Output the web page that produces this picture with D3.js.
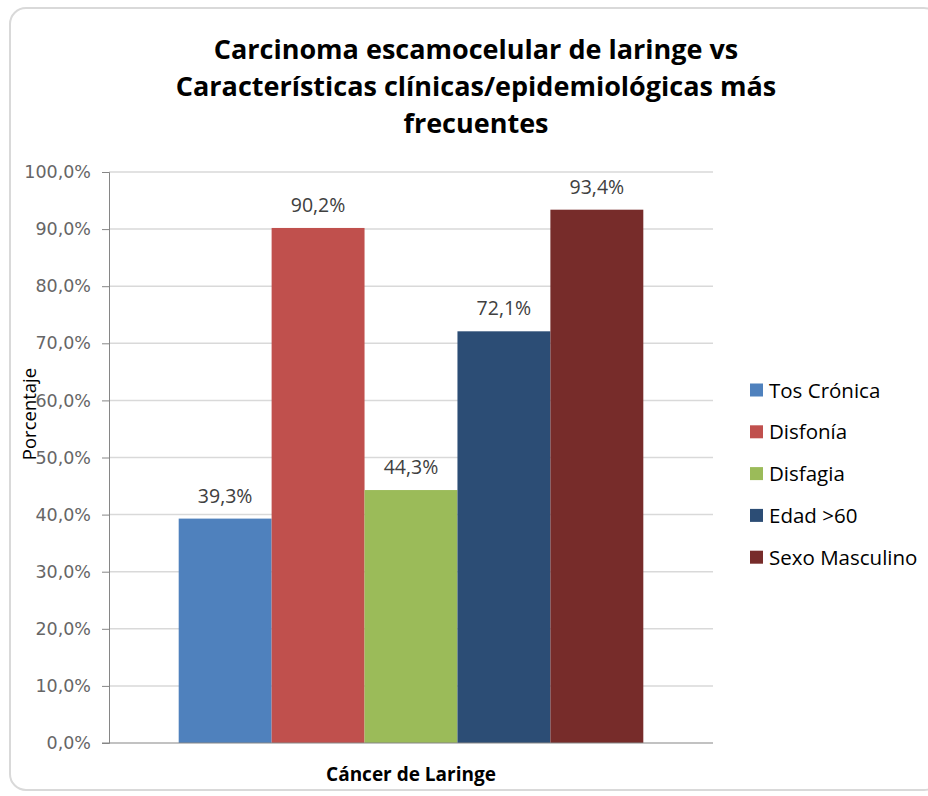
<!DOCTYPE html>
<html>
<head>
<meta charset="utf-8">
<script src="https://cdn.jsdelivr.net/npm/d3@7"></script>
<style>
  body { margin: 0; background: #fff; }
  svg { display: block; }
</style>
</head>
<body>
<svg id="chart" width="928" height="796"></svg>
<script>
// data
const titleLines = ["Carcinoma escamocelular de laringe vs",
  "Características clínicas/epidemiológicas más", "frecuentes"];
const seriesNames = ["Tos Crónica", "Disfonía", "Disfagia", "Edad >60", "Sexo Masculino"];
const seriesValues = [39.3, 90.2, 44.3, 72.1, 93.4];
const seriesColors = ["#4F81BD", "#C0504D", "#9BBB59", "#2C4D75", "#772C2A"];
const category = "Cáncer de Laringe";
const yTicks = [0, 10, 20, 30, 40, 50, 60, 70, 80, 90, 100];
const yTitle = "Porcentaje";

const fmt = v => v.toFixed(1).replace(".", ",") + "%";

const svg = d3.select("#chart");

// chart frame
svg.append("rect")
  .attr("x", 10).attr("y", 8)
  .attr("width", 930).attr("height", 782)
  .attr("rx", 16)
  .attr("fill", "#fff")
  .attr("stroke", "#d9d9d9")
  .attr("stroke-width", 2);

// title
svg.append("text")
  .attr("text-anchor", "middle")
  .style("font-family", "'Open Sans', sans-serif")
  .style("font-weight", "bold")
  .style("font-size", "27px")
  .attr("fill", "#000")
  .selectAll("tspan")
  .data(titleLines)
  .enter()
  .append("tspan")
  .attr("x", 476)
  .attr("y", (d, i) => 59 + i * 37)
  .text(d => d);

const plot = { left: 109, right: 713, top: 172, bottom: 743 };

const y = d3.scaleLinear()
  .domain([0, 100])
  .range([plot.bottom, plot.top]);

const x = d3.scaleBand()
  .domain([category])
  .range([plot.left, plot.right])
  .paddingInner(0)
  .paddingOuter(0.15);

const xs = d3.scaleBand()
  .domain(seriesNames)
  .range([0, x.bandwidth()]);

// gridlines
svg.append("g")
  .selectAll("line")
  .data(yTicks.slice(1))
  .enter()
  .append("line")
  .attr("x1", plot.left).attr("x2", plot.right)
  .attr("y1", d => y(d)).attr("y2", d => y(d))
  .attr("stroke", "#d9d9d9")
  .attr("stroke-width", 1.5);

// Y axis
const yAxis = svg.append("g")
  .attr("transform", `translate(${plot.left},0)`)
  .call(d3.axisLeft(y).tickValues(yTicks).tickFormat(fmt).tickSize(7).tickPadding(11));
yAxis.select(".domain").attr("stroke", "#868686");
yAxis.selectAll(".tick line").attr("stroke", "#868686");
yAxis.selectAll(".tick text")
  .style("font-family", "'DejaVu Sans', Verdana, sans-serif")
  .style("font-size", "17.5px")
  .attr("fill", "#666");

// bars
const bars = svg.append("g");
bars.selectAll("rect")
  .data(seriesValues)
  .enter()
  .append("rect")
  .attr("x", (d, i) => x(category) + xs(seriesNames[i]))
  .attr("y", d => y(d))
  .attr("width", xs.bandwidth())
  .attr("height", d => y(0) - y(d))
  .attr("fill", (d, i) => seriesColors[i]);

// data labels
bars.selectAll("text")
  .data(seriesValues)
  .enter()
  .append("text")
  .attr("x", (d, i) => x(category) + xs(seriesNames[i]) + xs.bandwidth() / 2)
  .attr("y", d => y(d) - 16)
  .attr("text-anchor", "middle")
  .style("font-family", "'Open Sans', sans-serif")
  .style("font-size", "19.5px")
  .attr("fill", "#404040")
  .text(fmt);

// X axis line
svg.append("line")
  .attr("x1", plot.left - 7).attr("x2", plot.right)
  .attr("y1", plot.bottom).attr("y2", plot.bottom)
  .attr("stroke", "#868686")
  .attr("stroke-width", 1.2);

// axis titles
svg.append("text")
  .attr("x", x(category) + x.bandwidth() / 2)
  .attr("y", 781)
  .attr("text-anchor", "middle")
  .style("font-family", "'Open Sans', sans-serif")
  .style("font-weight", "bold")
  .style("font-size", "19px")
  .attr("fill", "#000")
  .text(category);

svg.append("text")
  .attr("transform", "translate(36,414) rotate(-90)")
  .attr("text-anchor", "middle")
  .style("font-family", "'Open Sans', sans-serif")
  .style("font-size", "18.5px")
  .attr("fill", "#000")
  .text(yTitle);

// legend
const legend = svg.append("g")
  .selectAll("g")
  .data(seriesNames)
  .enter()
  .append("g")
  .attr("transform", (d, i) => `translate(750,${390 + i * 41.8})`);
legend.append("rect")
  .attr("x", 0).attr("y", -6.5)
  .attr("width", 13).attr("height", 13)
  .attr("fill", (d, i) => seriesColors[i]);
legend.append("text")
  .attr("x", 19).attr("y", 7.5)
  .style("font-family", "'Open Sans', sans-serif")
  .style("font-size", "20.5px")
  .attr("fill", "#000")
  .text(d => d);
</script>
</body>
</html>
